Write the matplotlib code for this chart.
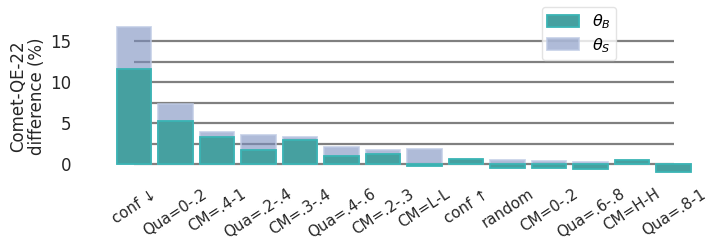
import matplotlib
matplotlib.use("Agg")
import matplotlib.pyplot as plt
import numpy as np

categories = ["conf ↓", "Qua=0-.2", "CM=.4-1", "Qua=.2-.4", "CM=.3-.4", "Qua=.4-.6",
              "CM=.2-.3", "CM=L-L", "conf ↑", "random", "CM=0-.2", "Qua=.6-.8",
              "CM=H-H", "Qua=.8-1"]
theta_B = [11.6, 5.3, 3.35, 1.75, 2.9, 1.05, 1.3, -0.15, 0.65, -0.45, -0.45, -0.6, 0.48, -0.93]
theta_S = [16.7, 7.4, 3.9, 3.55, 3.3, 2.05, 1.8, 1.82, 0.5, 0.48, 0.4, 0.28, 0.3, -0.6]
yticks = [0, 5, 10, 15]
gridvals = [0, 2.5, 5, 7.5, 10, 12.5, 15]

plt.rcParams['font.family'] = ['DejaVu Sans']
fig = plt.figure(figsize=(7.07, 2.41), dpi=100)
ax = fig.add_axes([0.1573, 0.267, 0.8276, 0.665])

x = np.arange(len(categories))
ax.hlines(gridvals, 0, len(categories) - 1, colors="#808080", linewidth=1.6, zorder=1)

w = 0.84
bs = ax.bar(x, theta_S, width=w, color=(123/255, 143/255, 190/255, 0.6),
            edgecolor=(190/255, 202/255, 228/255, 0.8), linewidth=1.3, zorder=2, label=r"$\theta_S$")
bb = ax.bar(x, theta_B, width=w, color="#46a0a0",
            edgecolor="#3ab4b4", linewidth=1.3, zorder=3, label=r"$\theta_B$")

ax.set_xlim(-0.55, len(categories) - 1 + 0.55)
ax.set_ylim(-1.5, 18)
ax.set_yticks(yticks)
ax.set_yticklabels([str(v) for v in yticks], fontsize=12, color="#262626")
ax.set_xticks(x)
ax.set_xticklabels(categories, rotation=33, ha="center", fontsize=10.8, color="#262626")
ax.tick_params(axis="both", length=0)
ax.tick_params(axis="y", pad=29)
ax.tick_params(axis="x", pad=7)
for s in ax.spines.values():
    s.set_visible(False)

ax.set_ylabel("Comet-QE-22\ndifference (%)", fontsize=12, color="#262626", linespacing=1.1)
ax.yaxis.set_label_coords(-0.111, 0.5)

leg = fig.legend(handles=[bb, bs], labels=[r"$\theta_B$", r"$\theta_S$"], loc="upper left",
                 bbox_to_anchor=(0.766, 0.972), fontsize=11.5, frameon=True,
                 handlelength=2.0, handleheight=0.75, borderpad=0.35, labelspacing=0.3,
                 handletextpad=0.8, borderaxespad=0.0)
leg.get_frame().set_edgecolor("#dddddd")
leg.get_frame().set_linewidth(1.0)

fig.savefig("out.png", dpi=100)
